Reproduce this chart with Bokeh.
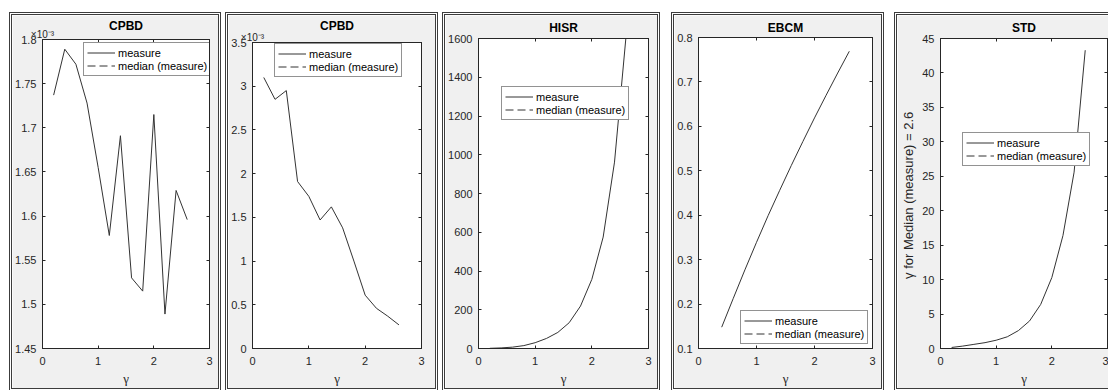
from bokeh.plotting import figure
from bokeh.models import (Range1d, FixedTicker, LinearAxis, Legend, LegendItem,
                          ColumnDataSource)
from bokeh.layouts import row, column
from bokeh.embed import file_html
from bokeh.resources import INLINE

# ---------------- data ----------------
gamma = [0.2, 0.4, 0.6, 0.8, 1.0, 1.2, 1.4, 1.6, 1.8, 2.0, 2.2, 2.4, 2.6]
gamma_ebcm = [0.4, 0.6, 0.8, 1.0, 1.2, 1.4, 1.6, 1.8, 2.0, 2.2, 2.4, 2.6]

cpbd_a = [1.737, 1.789, 1.772, 1.728, 1.655, 1.578, 1.691, 1.530, 1.515,
          1.715, 1.489, 1.629, 1.596]          # x 1e-3
cpbd_b = [3.10, 2.85, 2.95, 1.91, 1.74, 1.47, 1.62, 1.38, 1.00, 0.61,
          0.46, 0.37, 0.27]                    # x 1e-3
hisr = [1, 3, 7, 15, 30, 52, 83, 133, 219, 357, 575, 962, 1600]
ebcm = [0.148, 0.213, 0.277, 0.339, 0.399, 0.456, 0.512, 0.566, 0.619,
        0.670, 0.720, 0.769]
std = [0.15, 0.35, 0.6, 0.85, 1.2, 1.7, 2.6, 4.0, 6.4, 10.3, 16.4, 25.6, 43.3]
median_none = [float("nan")]   # median line: not visible in the reference

x_ticks = [0, 1, 2, 3]
x_tick_labels = ["0", "1", "2", "3"]

cpbd_a_ticks = [1.45, 1.5, 1.55, 1.6, 1.65, 1.7, 1.75, 1.8]
cpbd_a_labels = ["1.45", "1.5", "1.55", "1.6", "1.65", "1.7", "1.75", "1.8"]
cpbd_b_ticks = [0, 0.5, 1, 1.5, 2, 2.5, 3, 3.5]
cpbd_b_labels = ["0", "0.5", "1", "1.5", "2", "2.5", "3", "3.5"]
hisr_ticks = [0, 200, 400, 600, 800, 1000, 1200, 1400, 1600]
hisr_labels = ["0", "200", "400", "600", "800", "1000", "1200", "1400", "1600"]
ebcm_ticks = [0.1, 0.2, 0.3, 0.4, 0.5, 0.6, 0.7, 0.8]
ebcm_labels = ["0.1", "0.2", "0.3", "0.4", "0.5", "0.6", "0.7", "0.8"]
std_ticks = [0, 5, 10, 15, 20, 25, 30, 35, 40, 45]
std_labels = ["0", "5", "10", "15", "20", "25", "30", "35", "40", "45"]

titles = ["CPBD", "CPBD", "HISR", "EBCM", "STD"]
legend_labels = ["measure", "median (measure)"]
x_label = "\u03b3"
std_y_label = "\u03b3 for  Median (measure) = 2.6"
exponent_text = "\u00d710\u207b\u00b3"

# ---------------- styling ----------------
AX = "#262626"
BG = "#f0f0f0"
LINE = "#333333"
FONT = "Liberation Sans"
H = 379


def style_axis(ax, ticks, labels, size="11px", standoff=6):
    ax.ticker = FixedTicker(ticks=ticks, minor_ticks=[])
    ax.major_label_overrides = dict(zip(ticks, labels))
    ax.major_tick_in = 3
    ax.major_tick_out = 0
    ax.minor_tick_in = 0
    ax.minor_tick_out = 0
    ax.axis_line_color = AX
    ax.major_tick_line_color = AX
    ax.major_label_text_color = AX
    ax.major_label_text_font = FONT
    ax.major_label_text_font_size = size
    ax.major_label_standoff = standoff


def panel(title, xs, ys, ylo, yhi, yt, ytl, width, mb, leg_xy, ml,
          title_standoff, exponent=False, ylabel=None):
    p = figure(width=width, height=H, x_range=Range1d(0, 3),
               y_range=Range1d(ylo, yhi), output_backend="svg",
               toolbar_location=None,
               min_border_left=mb[0], min_border_right=mb[1],
               min_border_top=mb[2], min_border_bottom=mb[3],
               background_fill_color="white", border_fill_color=BG,
               outline_line_color=AX)
    p.grid.visible = False

    xa = p.xaxis[0]
    style_axis(xa, x_ticks, x_tick_labels, standoff=8)
    xa.axis_label = x_label
    xa.axis_label_text_font = "Liberation Serif"
    xa.axis_label_text_font_style = "normal"
    xa.axis_label_text_font_size = "13px"
    xa.axis_label_text_color = AX
    xa.axis_label_standoff = 3

    ya = p.yaxis[0]
    style_axis(ya, yt, ytl)
    if ylabel:
        ya.axis_label = ylabel
        ya.axis_label_text_font = FONT
        ya.axis_label_text_font_style = "normal"
        ya.axis_label_text_font_size = "13px"
        ya.axis_label_text_color = AX
        ya.axis_label_standoff = 3

    # mirrored ticks (box on); with a multiplier the top axis also carries
    # the x10^-3 note and the panel title
    top = LinearAxis()
    if exponent:
        style_axis(top, x_ticks, [exponent_text, "", "", ""],
                   size="10px", standoff=0)
        top.major_label_text_align = "left"
        top.axis_label = title
        top.axis_label_text_font = FONT
        top.axis_label_text_font_style = "bold"
        top.axis_label_text_font_size = "12px"
        top.axis_label_text_color = "#000000"
        top.axis_label_standoff = title_standoff
    else:
        style_axis(top, x_ticks, ["", "", "", ""], size="0px", standoff=0)
        p.title.text = title
        p.title.align = "center"
        p.title.text_font = FONT
        p.title.text_font_style = "bold"
        p.title.text_font_size = "12px"
        p.title.text_color = "#000000"
        p.title.standoff = title_standoff
        p.title.offset = 0
    p.add_layout(top, "above")
    right = LinearAxis()
    style_axis(right, yt, ["" for _ in yt], size="0px", standoff=0)
    p.add_layout(right, "right")

    src = ColumnDataSource(data=dict(x=xs, y=ys))
    r1 = p.line("x", "y", source=src, line_color=LINE, line_width=1)
    med = ColumnDataSource(data=dict(x=median_none, y=median_none))
    r2 = p.line("x", "y", source=med, line_color=LINE, line_width=1,
                line_dash="8 4")

    leg = Legend(items=[LegendItem(label=legend_labels[0], renderers=[r1]),
                        LegendItem(label=legend_labels[1], renderers=[r2])],
                 location=leg_xy, orientation="vertical",
                 background_fill_color="white", background_fill_alpha=1,
                 border_line_color=AX, border_line_width=1,
                 label_text_font=FONT, label_text_font_size="11px",
                 label_text_color="#000000",
                 label_height=13, glyph_height=13, glyph_width=28,
                 label_standoff=3, padding=3, spacing=0, margin=0)
    p.add_layout(leg, "center")

    p.styles = {"border": "3px double #3c3c3c"}
    p.margin = (12, 0, 0, ml)
    return column(p)


p1 = panel(titles[0], gamma, cpbd_a, 1.45, 1.8, cpbd_a_ticks, cpbd_a_labels,
           212, (28, 15, 18, 46), (41, 272), 9, -7, exponent=True)
p2 = panel(titles[1], gamma, cpbd_b, 0, 3.5, cpbd_b_ticks, cpbd_b_labels,
           213, (24, 20, 22, 46), (22, 271), 4, -4, exponent=True)
p3 = panel(titles[2], gamma, hisr, 0, 1600, hisr_ticks, hisr_labels,
           218, (32, 15, 22, 46), (23, 228), 4, 7)
p4 = panel(titles[3], gamma_ebcm, ebcm, 0.1, 0.8, ebcm_ticks, ebcm_labels,
           213, (24, 15, 21, 46), (42, 4), 11, 6)
p5 = panel(titles[4], gamma, std, 0, 45, std_ticks, std_labels,
           217, (43, 7, 23, 46), (22, 182), 10, 7, ylabel=std_y_label)

layout = row(p1, p2, p3, p4, p5, spacing=0, width=1108, height=390,
             styles={"overflow": "hidden"})
open("out.html", "w").write(file_html(layout, INLINE))
